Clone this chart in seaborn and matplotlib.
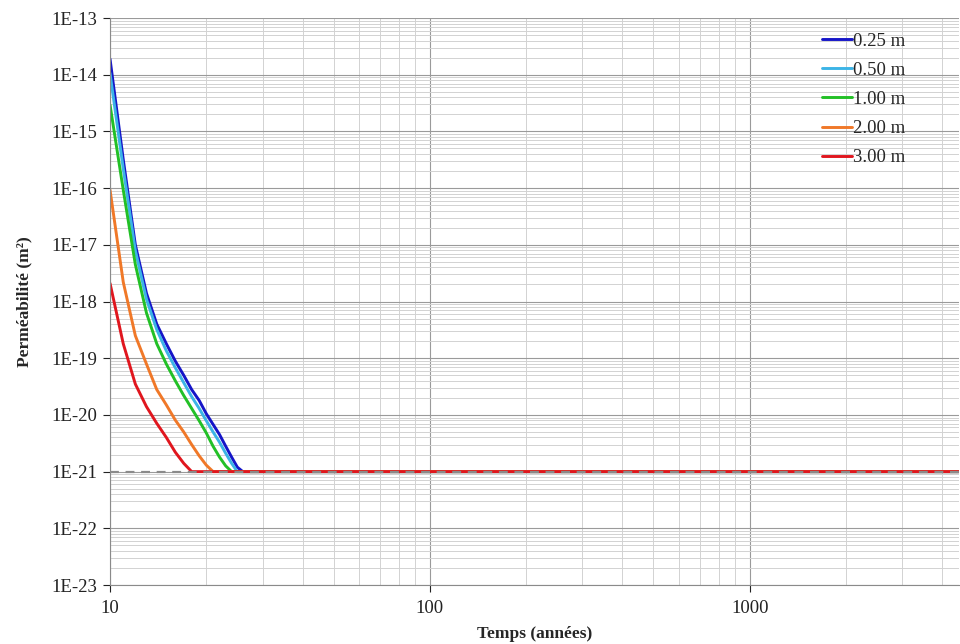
import numpy as np
import pandas as pd
import matplotlib
matplotlib.use("Agg")
import matplotlib.pyplot as plt
import matplotlib.ticker as mticker
import seaborn as sns

# time steps (years) - last value is the end of the simulation
temps = [10, 11, 12, 13, 14, 15, 16, 17, 18, 19, 20, 21, 22, 23, 24, 25, 26, 4500]

# permeability (m2) per thickness
k_025 = [1.9e-14, 3.2e-16, 1.0e-17, 1.4e-18, 4.0e-19, 1.8e-19, 8.9e-20, 5.0e-20, 2.8e-20,
         1.8e-20, 1.05e-20, 6.8e-21, 4.5e-21, 2.8e-21, 1.8e-21, 1.2e-21, 1.0e-21, 1.0e-21]
k_050 = [1.07e-14, 2.2e-16, 7.9e-18, 1.1e-18, 3.2e-19, 1.35e-19, 6.8e-20, 3.7e-20, 2.1e-20,
         1.3e-20, 7.9e-21, 5.0e-21, 3.3e-21, 2.1e-21, 1.4e-21, 1.0e-21, 1.0e-21, 1.0e-21]
k_100 = [2.95e-15, 9.3e-17, 4.5e-18, 6.3e-19, 1.8e-19, 7.9e-20, 4.0e-20, 2.2e-20, 1.3e-20,
         7.9e-21, 4.8e-21, 2.8e-21, 1.8e-21, 1.26e-21, 1.0e-21, 1.0e-21, 1.0e-21, 1.0e-21]
k_200 = [9.3e-17, 2.2e-18, 2.5e-19, 7.9e-20, 2.8e-20, 1.5e-20, 8.1e-21, 5.0e-21, 3.0e-21,
         1.9e-21, 1.3e-21, 1.0e-21, 1.0e-21, 1.0e-21, 1.0e-21, 1.0e-21, 1.0e-21, 1.0e-21]
k_300 = [2.1e-18, 1.8e-19, 3.5e-20, 1.4e-20, 7.1e-21, 4.0e-21, 2.2e-21, 1.4e-21, 1.0e-21,
         1.0e-21, 1.0e-21, 1.0e-21, 1.0e-21, 1.0e-21, 1.0e-21, 1.0e-21, 1.0e-21, 1.0e-21]

labels = ["0.25 m", "0.50 m", "1.00 m", "2.00 m", "3.00 m"]
colors = ["#1515c8", "#3cb4e6", "#22c026", "#f07828", "#e0161e"]
k_seuil = 1e-21

y_ticks = [1e-23, 1e-22, 1e-21, 1e-20, 1e-19, 1e-18, 1e-17, 1e-16, 1e-15, 1e-14, 1e-13]
x_ticks = [10, 100, 1000]

sns.set_theme(style="white")
plt.rcParams['font.family'] = ['Liberation Serif', 'DejaVu Serif']

fig = plt.figure(figsize=(9.6, 6.44), dpi=100)
ax = fig.add_axes([0.1146, 0.0916, 0.884, 0.8804])
ax.set_xscale("log")
ax.set_yscale("log")

for lab, vals, col in zip(labels, [k_025, k_050, k_100, k_200, k_300], colors):
    df = pd.DataFrame({"temps": temps, "k": vals})
    sns.lineplot(data=df, x="temps", y="k", color=col, lw=2.1, label=lab, ax=ax, sort=True)

ax.axhline(k_seuil, color="#8a8a8a", lw=1.6, ls=(0, (4, 3)), zorder=5)

ax.set_xlim(10, 4500)
ax.set_ylim(1e-23, 1e-13)

ax.yaxis.set_major_locator(mticker.FixedLocator(y_ticks))
ax.yaxis.set_minor_locator(mticker.LogLocator(base=10, subs=np.arange(2, 10), numticks=20))
ax.yaxis.set_major_formatter(mticker.FuncFormatter(lambda v, p: f"1E{int(round(np.log10(v)))}"))
ax.yaxis.set_minor_formatter(mticker.NullFormatter())
ax.xaxis.set_major_locator(mticker.FixedLocator(x_ticks))
ax.xaxis.set_minor_locator(mticker.LogLocator(base=10, subs=np.arange(2, 10), numticks=10))
ax.xaxis.set_major_formatter(mticker.FuncFormatter(lambda v, p: f"{int(round(v))}"))
ax.xaxis.set_minor_formatter(mticker.NullFormatter())

ax.grid(which="major", color="#9a9a9a", lw=0.8)
ax.grid(which="minor", color="#d2d2d2", lw=0.7)
ax.set_axisbelow(True)

ax.tick_params(axis="both", which="major", labelsize=13.5, colors="#222222",
               length=5, width=0.8, direction="out", left=True, bottom=True)
ax.tick_params(axis="both", which="minor", length=0)
ax.tick_params(axis="x", pad=6)
ax.tick_params(axis="y", pad=4)
for s in ["top", "right"]:
    ax.spines[s].set_visible(False)
for s in ["left", "bottom"]:
    ax.spines[s].set_color("#8a8a8a")
    ax.spines[s].set_linewidth(0.8)

ax.set_xlabel("Temps (années)", fontsize=12.5, fontweight="bold", labelpad=6)
ax.set_ylabel("Perméabilité (m²)", fontsize=12.5, fontweight="bold", labelpad=14)

ax.legend(loc="upper right", bbox_to_anchor=(0.957, 1.004), frameon=False,
          fontsize=13.5, handlelength=1.6, handletextpad=0.05, labelspacing=0.64)

fig.savefig("out.png", dpi=100)
